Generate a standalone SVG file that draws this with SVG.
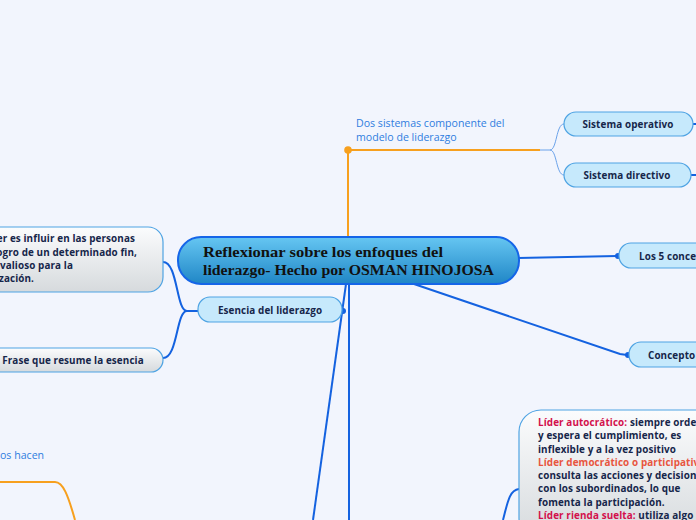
<svg xmlns="http://www.w3.org/2000/svg" width="696" height="520" viewBox="0 0 696 520">
<defs>
<linearGradient id="gCentral" x1="0" y1="0" x2="0" y2="1">
<stop offset="0" stop-color="#66c6f2"/>
<stop offset="1" stop-color="#1f86c6"/>
</linearGradient>
<linearGradient id="gGray" x1="0" y1="0" x2="0" y2="1">
<stop offset="0" stop-color="#fbfcfd"/>
<stop offset="1" stop-color="#d6dadd"/>
</linearGradient>
<style>
.bg{fill:#f2f5fd}
.sub{fill:#c6e9fc;stroke:#4ea3e3;stroke-width:1.2}
.gray{fill:url(#gGray);stroke:#4ea3e3;stroke-width:1.2}
.lbl{font-family:"Open Sans","Noto Sans",sans-serif;font-weight:700;font-size:9.9px;letter-spacing:0.1px;fill:#16264a}
.ctr{text-anchor:middle}
.blue{fill:none;stroke:#1462e0;stroke-width:2}
.thin{fill:none;stroke:#6aa2ea;stroke-width:1}
.orange{fill:none;stroke:#f7a01e;stroke-width:2}
.flt{font-family:"Open Sans","Noto Sans",sans-serif;font-size:10.6px;fill:#2f7de0}
.red{fill:#d3104c}
.ored{fill:#e8553e}
</style>
</defs>
<rect class="bg" x="0" y="0" width="696" height="520"/>
<g id="connectors">
<path class="orange" d="M348,237 V150 H540"/>
<circle cx="348" cy="150" r="3.8" fill="#f7a01e"/>
<path class="thin" d="M540,150 H550 C557,150 556,124 564,124"/>
<path class="thin" d="M550,150 C557,150 556,175 564,175"/>
<path class="blue" d="M693,124 H696"/>
<path class="blue" d="M691,175 H696"/>
<path class="blue" d="M518,258 L617,256"/>
<circle cx="618" cy="256" r="3" fill="#1462e0"/>
<path class="blue" d="M414,284 L620,354 L627,355"/>
<circle cx="628" cy="355" r="3" fill="#1462e0"/>
<path class="blue" d="M346,284 L313,520"/>
<path class="blue" d="M349,284 V520"/>
<circle cx="343" cy="311" r="3" fill="#1462e0"/>
<path class="blue" d="M198,311 H187 C176,311 178,262 163,262"/>
<path class="blue" d="M187,311 C176,311 178,358 163,358"/>
<path class="blue" d="M503,520 C508,500 510,490 519,489"/>
<path class="orange" d="M0,482 H55 C63,482 68,495 75,520"/>
</g>
<g id="central">
<rect x="178" y="237" width="341" height="47" rx="23" fill="url(#gCentral)" stroke="#1565e8" stroke-width="2"/>
<text x="203" y="257" font-family="'Liberation Serif','DejaVu Serif',serif" font-weight="700" font-size="15.5" fill="#111" textLength="240" lengthAdjust="spacingAndGlyphs">Reflexionar sobre los enfoques del</text>
<text x="203" y="275" font-family="'Liberation Serif','DejaVu Serif',serif" font-weight="700" font-size="15.5" fill="#111" textLength="291" lengthAdjust="spacingAndGlyphs">liderazgo- Hecho por OSMAN HINOJOSA</text>
</g>
<g id="dos-sistemas">
<text class="flt" x="356" y="127">Dos sistemas componente del</text>
<text class="flt" x="356" y="141">modelo de liderazgo</text>
</g>
<g id="sistema-operativo">
<rect class="sub" x="564" y="112" width="129" height="24" rx="12"/>
<text class="lbl ctr" x="628" y="128">Sistema operativo</text>
</g>
<g id="sistema-directivo">
<rect class="sub" x="564" y="163" width="127" height="24" rx="12"/>
<text class="lbl ctr" x="627" y="179">Sistema directivo</text>
</g>
<g id="los-5-conceptos">
<rect class="sub" x="619" y="243" width="100" height="25" rx="12"/>
<text class="lbl" x="639" y="260">Los 5 concep</text>
</g>
<g id="concepto">
<rect class="sub" x="629" y="342" width="90" height="25" rx="12"/>
<text class="lbl" x="648" y="359">Concepto</text>
</g>
<g id="esencia">
<rect class="sub" x="198" y="297" width="144" height="25" rx="12"/>
<text class="lbl ctr" x="270" y="314">Esencia del liderazgo</text>
</g>
<g id="definicion">
<rect class="gray" x="-30" y="227" width="193" height="65" rx="15"/>
<text class="lbl" text-anchor="end" x="135" y="242">er es influir en las personas</text>
<text class="lbl" text-anchor="end" x="137" y="256">ogro de un determinado fin,</text>
<text class="lbl" text-anchor="end" x="73" y="269">valioso para la</text>
<text class="lbl" text-anchor="end" x="34" y="282">zación.</text>
</g>
<g id="frase">
<rect class="gray" x="-20" y="348" width="183" height="24" rx="12"/>
<text class="lbl ctr" x="73" y="364">Frase que resume la esencia</text>
</g>
<g id="hacen">
<text class="flt" x="0" y="459">os hacen</text>
</g>
<g id="tipos-lider">
<rect class="gray" x="519" y="410" width="200" height="130" rx="22"/>
<text class="lbl" x="538" y="426"><tspan class="red">Líder autocrático:</tspan> siempre orde</text>
<text class="lbl" x="538" y="439">y espera el cumplimiento, es</text>
<text class="lbl" x="538" y="453">inflexible y a la vez positivo</text>
<text class="lbl" x="538" y="466"><tspan class="ored">Líder democrático o participativ</tspan></text>
<text class="lbl" x="538" y="479">consulta las acciones y decisione</text>
<text class="lbl" x="538" y="492">con los subordinados, lo que</text>
<text class="lbl" x="538" y="506">fomenta la participación.</text>
<text class="lbl" x="538" y="519"><tspan class="red">Líder rienda suelta:</tspan> utiliza algo</text>
</g>
</svg>
